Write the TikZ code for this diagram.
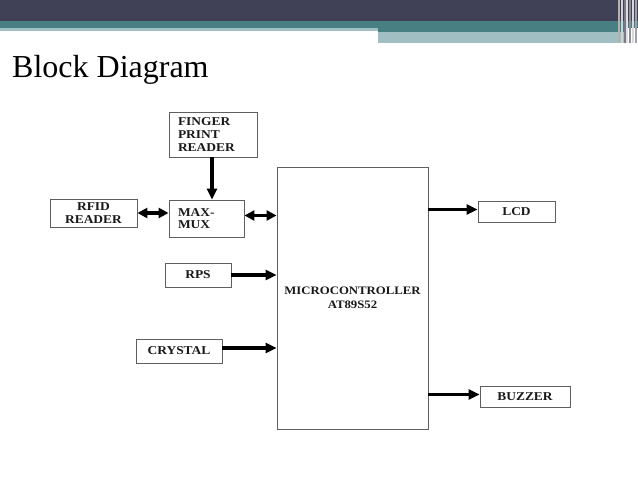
\documentclass[tikz,border=0pt]{standalone}
\usepackage{fontspec}
\setmainfont{Liberation Serif}
\newfontfamily\boxfont[FakeStretch=1.12]{Liberation Serif}
\usetikzlibrary{arrows.meta,positioning}
\definecolor{slate}{RGB}{64,65,86}
\definecolor{sea}{RGB}{71,127,131}
\definecolor{mist}{RGB}{161,190,194}
\definecolor{frame}{RGB}{95,95,95}
\definecolor{ink}{RGB}{25,25,25}
\tikzset{
  blk/.style={draw=frame,line width=0.9pt,inner sep=0pt,text=ink,
    font=\boxfont\fontsize{12}{12.6}\selectfont\bfseries,align=center},
  lblk/.style={blk,align=left,inner xsep=9pt,text width=#1},
  flow/.style={-{Triangle[length=11pt,width=10pt]},line width=3.4pt},
  biflow/.style={{Triangle[length=10pt,width=10pt]}-{Triangle[length=10pt,width=10pt]},line width=3.4pt},
}
\begin{document}
\begin{tikzpicture}[x=1pt,y=-1pt]
  \useasboundingbox (0,0) rectangle (638,479);
  % slide header
  \fill[slate] (0,0) rectangle (638,21);
  \fill[sea] (0,21) rectangle (638,28);
  \fill[mist] (0,28) rectangle (378,31);
  \fill[sea] (378,28) rectangle (625,32);
  \fill[mist] (378,32) rectangle (625,43);
  \foreach \x/\c in {618/gray!60,621/gray!35,624/slate!70,626/gray!25,629/slate!60,632/gray!30,635/slate!50}
    \fill[\c] (\x,0) rectangle ++(2,43);
  \node[anchor=base west,inner sep=0pt,font=\fontsize{32}{34}\selectfont] (title) at (12,77) {Block Diagram};
  % blocks
  \node[lblk=70pt,minimum height=45pt] (fpr) at (213,134.5) {FINGER\\PRINT\\READER};
  \node[blk,minimum width=87pt,minimum height=28pt] (rfid) at (93.5,213) {RFID\\READER};
  \node[lblk=57pt,minimum height=37pt] (max) at (206.5,218.5) {MAX-\\MUX};
  \node[blk,minimum width=151pt,minimum height=262pt,font=\boxfont\fontsize{11.4}{13.5}\selectfont\bfseries] (mcu) at (352.5,298) {MICROCONTROLLER\\AT89S52};
  \node[blk,minimum width=66pt,minimum height=24pt] (rps) at (198,275) {RPS};
  \node[blk,minimum width=86pt,minimum height=24pt] (xtal) at (179,351) {CRYSTAL};
  \node[blk,minimum width=77pt,minimum height=21pt] (lcd) at (516.5,211.5) {LCD};
  \node[blk,minimum width=90pt,minimum height=21pt] (buzz) at (525,396.5) {BUZZER};
  % links
  \draw[flow] ([xshift=-1pt]fpr.south) -- ([xshift=-1pt]fpr.south |- max.north);
  \draw[biflow] (rfid.east) -- (rfid.east -| max.west);
  \draw[biflow] ([yshift=3pt]max.east) -- ([yshift=3pt]max.east -| mcu.west);
  \draw[flow] (rps.east) -- (rps.east -| mcu.west);
  \draw[flow] ([yshift=3pt]xtal.east) -- ([yshift=3pt]xtal.east -| mcu.west);
  \draw[flow] ([yshift=2pt]lcd.west -| mcu.east) -- ([yshift=2pt]lcd.west);
  \draw[flow] ([yshift=2pt]buzz.west -| mcu.east) -- ([yshift=2pt]buzz.west);
\end{tikzpicture}
\end{document}
